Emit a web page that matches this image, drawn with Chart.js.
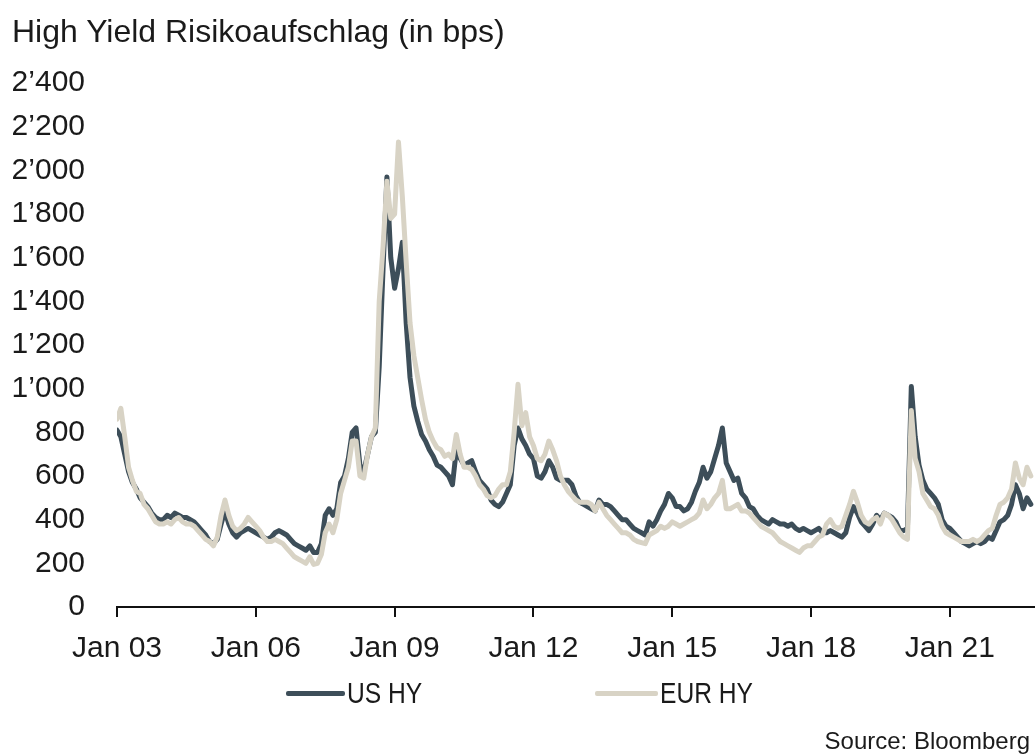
<!DOCTYPE html>
<html>
<head>
<meta charset="utf-8">
<script src="https://cdn.jsdelivr.net/npm/chart.js@4.4.1/dist/chart.umd.min.js"></script>
<style>
  html, body { margin: 0; padding: 0; background: #fff; }
  #wrap { position: relative; width: 1035px; height: 756px; overflow: hidden;
          font-family: "Liberation Sans", Arial, Helvetica, sans-serif; color: #1a1a1a; }
  #c { position: absolute; left: 0; top: 0; }
  #title { position: absolute; left: 12px; top: 13px; font-size: 32px; white-space: nowrap; }
  #legend { position: absolute; top: 675px; left: 0; width: 1035px; height: 36px; }
  .lg-item { position: absolute; top: 0; height: 36px; display: flex; align-items: center; }
  .lg-line { display: inline-block; height: 5px; border-radius: 2px; flex: none; }
  .lg-text { font-size: 30px; margin-left: 2px; line-height: 36px; display: inline-block;
             transform: scaleX(0.82); transform-origin: left center; white-space: nowrap; }
  #source { position: absolute; right: 5px; top: 727px; font-size: 24px; white-space: nowrap; }
</style>
</head>
<body>
<div id="wrap">
  <canvas id="c" width="1035" height="756"></canvas>
  <div id="title">High Yield Risikoaufschlag (in bps)</div>
  <div id="legend"></div>
  <div id="source">Source: Bloomberg</div>
</div>
<script>
// Monthly high-yield spreads in basis points, January 2003 to October 2022
const startYear = 2003;
const seriesNames = ['US HY', 'EUR HY'];
const seriesColors = ['#3d4e59', '#d8d3c5'];

const usHY = [
  810, 780, 700, 620, 570, 540, 500, 480, 460, 430, 410, 400,   // 2003
  400, 420, 410, 430, 420, 410, 410, 400, 390, 370, 350, 330,   // 2004
  300, 290, 310, 380, 440, 380, 340, 320, 340, 350, 360, 350,   // 2005
  340, 330, 320, 310, 320, 340, 350, 340, 330, 310, 290, 280,   // 2006
  270, 260, 280, 250, 250, 290, 420, 450, 420, 450, 570, 600,   // 2007
  680, 800, 820, 650, 620, 700, 780, 800, 1100, 1550, 1970, 1600, // 2008
  1460, 1550, 1670, 1300, 1050, 920, 850, 790, 760, 720, 690, 650, // 2009
  640, 620, 600, 560, 720, 680, 650, 660, 670, 620, 580, 560,   // 2010
  540, 490, 470, 460, 480, 520, 560, 740, 820, 770, 740, 700,   // 2011
  680, 600, 590, 620, 670, 640, 590, 580, 580, 580, 560, 510,   // 2012
  480, 470, 460, 450, 440, 490, 470, 470, 460, 440, 420, 400,   // 2013
  400, 380, 360, 350, 340, 330, 390, 370, 400, 440, 470, 520,   // 2014
  500, 460, 460, 440, 450, 480, 530, 570, 640, 590, 620, 680,   // 2015
  740, 820, 660, 620, 580, 590, 520, 500, 460, 450, 420, 400,   // 2016
  390, 380, 400, 390, 380, 380, 370, 380, 360, 350, 360, 350,   // 2017
  340, 350, 360, 340, 340, 350, 340, 330, 320, 340, 410, 460,   // 2018
  430, 390, 370, 350, 380, 420, 400, 430, 420, 410, 390, 350,   // 2019
  350, 360, 1010, 780, 650, 580, 540, 520, 500, 470, 400, 370,  // 2020
  360, 340, 320, 300, 290, 280, 290, 300, 290, 300, 320, 310,   // 2021
  350, 390, 400, 420, 470, 560, 520, 450, 500, 470              // 2022
];

const eurHY = [
  860, 910, 780, 640, 580, 530, 520, 470, 450, 420, 390, 380,   // 2003
  380, 390, 380, 400, 410, 390, 380, 380, 370, 350, 330, 310,   // 2004
  300, 280, 320, 420, 490, 420, 370, 350, 360, 380, 410, 390,   // 2005
  370, 350, 320, 300, 300, 310, 300, 290, 270, 250, 230, 220,   // 2006
  210, 200, 230, 195, 200, 240, 340, 380, 340, 400, 520, 580,   // 2007
  640, 760, 760, 600, 590, 700, 780, 820, 1400, 1650, 1950, 1780, // 2008
  1800, 2130, 1880, 1580, 1300, 1150, 1050, 950, 860, 800, 760, 730, // 2009
  720, 690, 700, 680, 790, 700, 640, 640, 630, 600, 560, 540,   // 2010
  510, 500, 510, 540, 560, 560, 620, 800, 1020, 830, 890, 780,  // 2011
  740, 680, 670, 700, 760, 720, 670, 600, 560, 530, 510, 490,   // 2012
  480, 480, 480, 470, 440, 480, 450, 420, 400, 380, 360, 340,   // 2013
  340, 330, 310, 300, 295, 290, 330, 340, 350, 370, 360, 370,   // 2014
  390, 380, 370, 380, 390, 400, 410, 430, 490, 450, 470, 500,   // 2015
  520, 580, 450, 450, 460, 470, 440, 440, 430, 410, 390, 370,   // 2016
  360, 350, 340, 320, 300, 290, 280, 270, 260, 250, 270, 280,   // 2017
  280, 300, 320, 330, 380, 400, 370, 360, 370, 420, 470, 530,   // 2018
  480, 420, 390, 380, 400, 410, 380, 430, 420, 400, 370, 340,   // 2019
  320, 310, 900, 680, 620, 520, 490, 460, 450, 420, 370, 340,   // 2020
  330, 320, 310, 300, 300, 300, 310, 300, 310, 330, 350, 360,   // 2021
  420, 470, 480, 500, 540, 660, 590, 560, 640, 600              // 2022
];

// Axis ticks
const yTicks = [0, 200, 400, 600, 800, 1000, 1200, 1400, 1600, 1800, 2000, 2200, 2400];
const xTickYears = [2003, 2006, 2009, 2012, 2015, 2018, 2021];
const xMin = 2003;
const xMax = 2022.84;

// Observation dates as fractional years (one per month)
function toPoints(values) {
  return values.map((v, i) => ({ x: startYear + i / 12, y: v }));
}

function fmtThousands(v) {
  if (v >= 1000) {
    return Math.floor(v / 1000) + '\u2019' + String(v % 1000).padStart(3, '0');
  }
  return String(v);
}

const fontFamily = '"Liberation Sans", Arial, Helvetica, sans-serif';

const chart = new Chart(document.getElementById('c'), {
  type: 'line',
  data: {
    datasets: [
      {
        label: seriesNames[0],
        data: toPoints(usHY),
        borderColor: seriesColors[0],
        borderWidth: 5,
        pointRadius: 0,
        tension: 0,
        borderJoinStyle: 'round',
        borderCapStyle: 'round',
        order: 2
      },
      {
        label: seriesNames[1],
        data: toPoints(eurHY),
        borderColor: seriesColors[1],
        borderWidth: 5,
        pointRadius: 0,
        tension: 0,
        borderJoinStyle: 'round',
        borderCapStyle: 'round',
        order: 1
      }
    ]
  },
  options: {
    responsive: false,
    animation: false,
    layout: { padding: { top: 83, right: 0, bottom: 0, left: 0 } },
    plugins: {
      legend: { display: false },
      title: { display: false },
      tooltip: { enabled: false }
    },
    scales: {
      x: {
        type: 'linear',
        min: xMin,
        max: xMax,
        afterFit: (s) => { s.height = 149; },
        afterBuildTicks: (s) => { s.ticks = xTickYears.map(v => ({ value: v })); },
        grid: {
          display: true,
          drawOnChartArea: false,
          drawTicks: true,
          tickLength: 10,
          color: '#111',
          lineWidth: 2
        },
        border: { display: true, color: '#111', width: 2 },
        ticks: {
          padding: 14,
          maxRotation: 0,
          autoSkip: false,
          color: '#1a1a1a',
          font: { family: fontFamily, size: 30 },
          callback: (v) => 'Jan ' + String(v % 100).padStart(2, '0')
        }
      },
      y: {
        min: 0,
        max: 2400,
        afterFit: (s) => { s.width = 117; },
        afterBuildTicks: (s) => { s.ticks = yTicks.map(v => ({ value: v })); },
        grid: { display: false },
        border: { display: false },
        ticks: {
          padding: 24,
          color: '#1a1a1a',
          font: { family: fontFamily, size: 30 },
          callback: (v) => fmtThousands(v)
        }
      }
    }
  }
});

// Legend built from the series names and colours
const legendPos = [
  { line: 286, width: 59 },
  { line: 595, width: 63 }
];
const legend = document.getElementById('legend');
seriesNames.forEach((name, i) => {
  const item = document.createElement('div');
  item.className = 'lg-item';
  item.style.left = legendPos[i].line + 'px';
  const ln = document.createElement('span');
  ln.className = 'lg-line';
  ln.style.width = legendPos[i].width + 'px';
  ln.style.background = seriesColors[i];
  const tx = document.createElement('span');
  tx.className = 'lg-text';
  tx.textContent = name;
  item.appendChild(ln);
  item.appendChild(tx);
  legend.appendChild(item);
});
</script>
</body>
</html>
